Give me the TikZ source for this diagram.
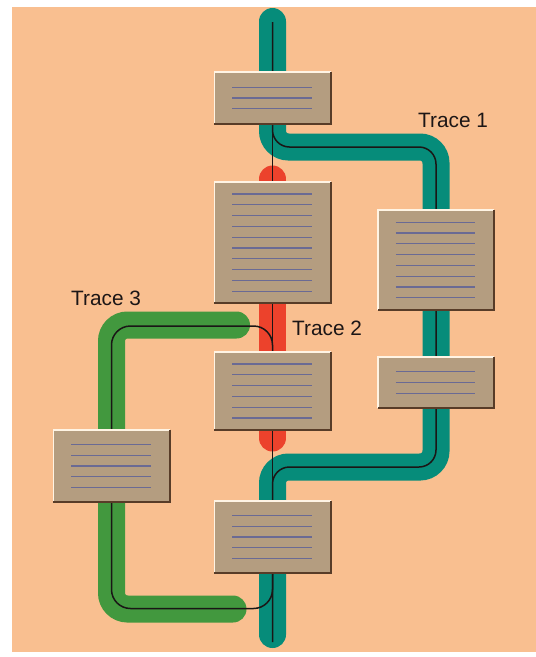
\documentclass[tikz,border=0pt]{standalone}
\usepackage{fontspec}
\setmainfont{Liberation Sans}
\usetikzlibrary{calc}
\pgfdeclarelayer{bg}
\pgfdeclarelayer{traces}
\pgfdeclarelayer{wires}
\pgfsetlayers{bg,traces,wires,main}

\definecolor{paper}{RGB}{249,191,144}
\definecolor{tealtrace}{RGB}{6,140,122}
\definecolor{redtrace}{RGB}{236,66,44}
\definecolor{greentrace}{RGB}{66,152,62}
\definecolor{boxtan}{RGB}{180,157,128}
\definecolor{boxdark}{RGB}{88,60,40}
\definecolor{boxlight}{RGB}{255,244,228}
\definecolor{textline}{RGB}{106,106,148}
\definecolor{wireink}{RGB}{26,22,22}
\definecolor{labelink}{RGB}{28,22,22}

\tikzset{
  board/.style={draw=none, fill=boxtan, inner sep=0pt, minimum width=116pt},
  trackband/.style={line width=27pt, line cap=round, rounded corners=16pt},
  wire/.style={draw=wireink, line width=1.5pt, rounded corners=17pt},
  rimlight/.style={draw=boxlight, line width=1.4pt},
  rimdark/.style={draw=boxdark, line width=1.8pt},
  ruling/.style={draw=textline, line width=1.2pt},
  tracelabel/.style={anchor=base west, inner sep=0pt, text=labelink,
                     font=\fontsize{20.8}{24}\selectfont},
}

% ruled lines centred in a box: #1 node, #2 number of lines
\newcommand\rulebox[2]{%
  \foreach \i in {1,...,#2}{%
    \draw[ruling] ($(#1.west)+(18,{(\i-(#2+1)/2)*10.8})$) --
                  ($(#1.east)+(-19,{(\i-(#2+1)/2)*10.8})$);
  }%
  \draw[rimlight] (#1.south west) -- (#1.north west) -- (#1.north east);
  \draw[rimdark] (#1.north east) -- (#1.south east) -- (#1.south west);
}

\begin{document}
\begin{tikzpicture}[x=1pt,y=-1pt]
\useasboundingbox (0,0) rectangle (536,657);

% boxes
\node[board, minimum height=52pt]  (b1) at (272.5,98)  {};
\node[board, minimum height=121pt] (b2) at (272.5,242.5) {};
\node[board, minimum height=78pt]  (b3) at (272.5,391) {};
\node[board, minimum height=100pt] (b4) at (436,260)   {};
\node[board, minimum height=51pt]  (b5) at (436,382.5) {};
\node[board, minimum height=72pt]  (b6) at (272.5,537) {};
\node[board, minimum height=72pt]  (b7) at (111.5,466) {};

\rulebox{b1}{3}
\rulebox{b2}{10}
\rulebox{b3}{6}
\rulebox{b4}{8}
\rulebox{b5}{3}
\rulebox{b6}{5}
\rulebox{b7}{5}

% route points
\coordinate (t1top) at (272.5,21.5);
\coordinate (t1a)   at (272.5,147);
\coordinate (t1b)   at (436,147);
\coordinate (t1c)   at (436,467);
\coordinate (t1d)   at (272.5,467);
\coordinate (t1end) at (272.5,634.5);
\coordinate (w1top) at (272.5,22);
\coordinate (w1end) at (272.5,642);

\coordinate (t2top) at (272.5,179);
\coordinate (t2bot) at (272.5,438);

\coordinate (t3a) at (236.5,325);
\coordinate (t3b) at (111.5,325);
\coordinate (t3c) at (111.5,609);
\coordinate (t3d) at (233,609);
\coordinate (w3a) at (272.5,326);
\coordinate (w3b) at (111.5,326);
\coordinate (w3c) at (111.5,608.5);
\coordinate (w3d) at (272.5,608.5);

\begin{pgfonlayer}{bg}
  \fill[white] (0,0) rectangle (536,657);
  \fill[paper] (11.5,6.5) rectangle (536,652);
\end{pgfonlayer}

\begin{pgfonlayer}{traces}
  % Trace 1
  \draw[trackband, tealtrace] (t1top) -- (b1.center) -- (t1a) -- (t1b)
        -- (b4.center) -- (b5.center) -- (t1c) -- (t1d) -- (b6.center) -- (t1end);
  % Trace 2
  \draw[trackband, redtrace] (t2top) -- (b2.center) -- (b3.center) -- (t2bot);
  % Trace 3
  \draw[trackband, greentrace] (t3a) -- (t3b) -- (b7.center) -- (t3c) -- (t3d);
\end{pgfonlayer}

\begin{pgfonlayer}{wires}
  \draw[wire] (w1top) -- (t1a) -- (t1b) -- (t1c) -- (t1d) -- (w1end);
  \draw[wire, rounded corners=0pt] (b1.center) -- (b6.center);
  \draw[wire, rounded corners=19pt] (b3.center) -- (w3a) -- (w3b) -- (w3c) -- (w3d) -- (b6.center);
\end{pgfonlayer}

% labels
\node[tracelabel] (lab1) at (418,127) {Trace 1};
\node[tracelabel] (lab2) at (292,335) {Trace 2};
\node[tracelabel] (lab3) at (71,305)  {Trace 3};
\end{tikzpicture}
\end{document}
